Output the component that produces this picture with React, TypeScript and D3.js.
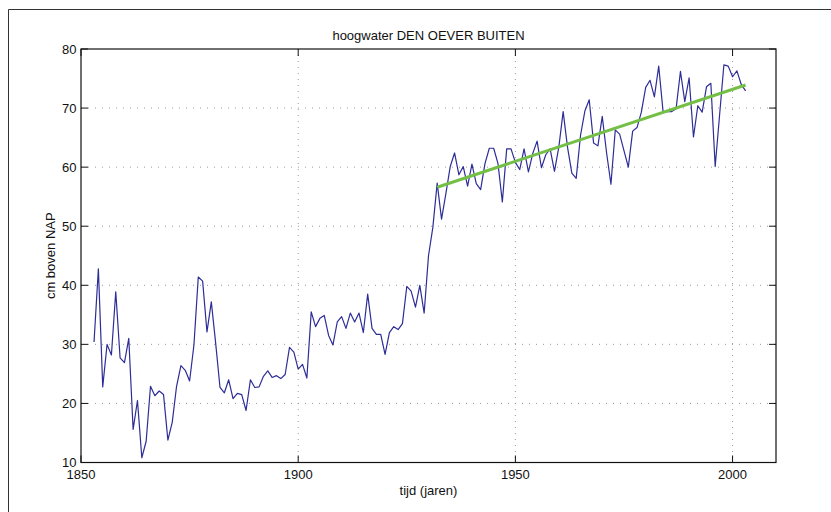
import React from "react";
import * as d3 from "d3";

const startYear = 1853;
const values: number[] = [
  30.4, 42.8, 22.8, 30.0, 28.2, 38.9, 27.7, 26.9, 31.0, 15.6,
  20.5, 10.8, 13.6, 22.9, 21.3, 22.1, 21.5, 13.8, 16.8, 22.9,
  26.4, 25.6, 23.8, 29.9, 41.4, 40.7, 32.1, 37.2, 30.2, 22.7,
  21.8, 24.0, 20.8, 21.7, 21.5, 18.8, 24.0, 22.7, 22.8, 24.6,
  25.5, 24.4, 24.7, 24.2, 24.9, 29.5, 28.7, 25.8, 26.6, 24.3,
  35.5, 33.0, 34.4, 34.9, 31.5, 29.9, 33.8, 34.7, 32.7, 35.3,
  33.8, 35.3, 32.0, 38.5, 32.7, 31.7, 31.7, 28.3, 32.0, 33.0,
  32.5, 33.5, 39.8, 39.0, 36.3, 40.0, 35.3, 45.0, 49.8, 57.3,
  51.2, 55.5, 60.1, 62.4, 58.7, 60.1, 56.8, 60.5, 57.2, 56.2,
  60.6, 63.2, 63.2, 60.6, 54.1, 63.1, 63.1, 60.8, 59.6, 63.1,
  59.2, 62.3, 64.4, 59.9, 62.1, 63.1, 59.3, 63.4, 69.4, 63.4,
  59.0, 58.1, 65.4, 69.5, 71.4, 64.1, 63.6, 68.6, 62.4, 57.1,
  66.3, 65.6, 62.8, 60.0, 66.1, 66.7, 69.3, 73.5, 74.7, 71.9,
  77.1, 69.4, 69.4, 69.4, 69.9, 76.2, 71.1, 75.1, 65.1, 70.4,
  69.3, 73.6, 74.2, 60.1, 68.7, 77.3, 77.1, 75.3, 76.3, 74.0,
  72.9,
];
const years: number[] = values.map((_, i) => startYear + i);

const trendYears: number[] = [1932, 2003];
const trendValues: number[] = [56.6, 73.9];

const xTicks: number[] = [1850, 1900, 1950, 2000];
const yTicks: number[] = [10, 20, 30, 40, 50, 60, 70, 80];

const title = "hoogwater DEN OEVER BUITEN";
const xLabel = "tijd (jaren)";
const yLabel = "cm boven NAP";

const W = 831;
const H = 512;
const left = 81;
const right = 776;
const top = 49;
const bottom = 462.5;
const tickLen = 7;
const font = "'Liberation Sans', Arial, Helvetica, sans-serif";

export default function App() {
  const x = d3.scaleLinear().domain([1850, 2010]).range([left, right]);
  const y = d3.scaleLinear().domain([10, 80]).range([bottom, top]);

  const pts: [number, number][] = years.map((yr, i) => [yr, values[i]]);
  const line = d3
    .line<[number, number]>()
    .x((d) => x(d[0]))
    .y((d) => y(d[1]));
  const trendPts: [number, number][] = trendYears.map((yr, i) => [yr, trendValues[i]]);

  return (
    <svg
      width={W}
      height={H}
      style={{ position: "absolute", left: 0, top: 0, display: "block", background: "#fff" }}
      fontFamily={font}
    >
      <rect x={0} y={0} width={W} height={H} fill="#fff" />
      {/* outer figure frame */}
      <path d={`M8.5,${H + 5} V9.5 H${W + 5}`} fill="none" stroke="#333" strokeWidth={1} />

      {/* grid */}
      {xTicks
        .filter((t) => x(t) > left + 1 && x(t) < right - 1)
        .map((t) => (
          <line
            key={"gx" + t}
            x1={x(t)}
            x2={x(t)}
            y1={top}
            y2={bottom}
            stroke="#9a9a9a"
            strokeWidth={1}
            strokeDasharray="1,5"
          />
        ))}
      {yTicks
        .filter((t) => y(t) > top + 1 && y(t) < bottom - 1)
        .map((t) => (
          <line
            key={"gy" + t}
            x1={left}
            x2={right}
            y1={y(t)}
            y2={y(t)}
            stroke="#9a9a9a"
            strokeWidth={1}
            strokeDasharray="1,6"
          />
        ))}

      {/* data */}
      <path d={line(pts) || ""} fill="none" stroke="#2d2d98" strokeWidth={1.2} strokeLinejoin="round" />
      <path d={line(trendPts) || ""} fill="none" stroke="#74bf45" strokeWidth={3} strokeLinecap="butt" />

      {/* axes box */}
      <rect x={left} y={top} width={right - left} height={bottom - top} fill="none" stroke="#111" strokeWidth={1.2} />
      {xTicks.map((t) => (
        <g key={"tx" + t}>
          <line x1={x(t)} x2={x(t)} y1={bottom} y2={bottom - tickLen} stroke="#111" />
          <line x1={x(t)} x2={x(t)} y1={top} y2={top + tickLen} stroke="#111" />
          <text x={x(t)} y={478.5} textAnchor="middle" fontSize={13} fill="#111">
            {t}
          </text>
        </g>
      ))}
      {yTicks.map((t) => (
        <g key={"ty" + t}>
          <line x1={left} x2={left + tickLen} y1={y(t)} y2={y(t)} stroke="#111" />
          <line x1={right} x2={right - tickLen} y1={y(t)} y2={y(t)} stroke="#111" />
          <text x={76.5} y={y(t) + 4.6} textAnchor="end" fontSize={13} fill="#111">
            {t}
          </text>
        </g>
      ))}

      <text x={(left + right) / 2} y={40} textAnchor="middle" fontSize={13} fill="#111">
        {title}
      </text>
      <text x={(left + right) / 2} y={495} textAnchor="middle" fontSize={13} fill="#111">
        {xLabel}
      </text>
      <text
        transform={`translate(54.5,${(top + bottom) / 2}) rotate(-90)`}
        textAnchor="middle"
        fontSize={13}
        fill="#111"
      >
        {yLabel}
      </text>
    </svg>
  );
}
